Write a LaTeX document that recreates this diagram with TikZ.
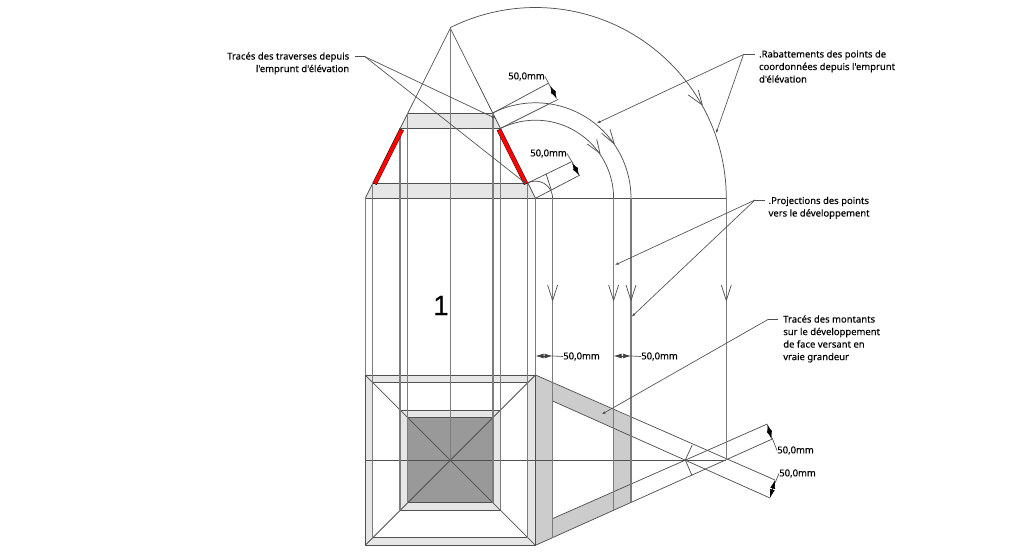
\documentclass[tikz,border=0pt]{standalone}
\usepackage{fontspec}
\setmainfont{Noto Sans}
\newfontfamily\notefont[FakeBold=0.15]{Noto Sans}
\newfontfamily\numfont[FakeBold=0.3]{Liberation Sans}
\usetikzlibrary{arrows.meta}
\definecolor{lightband}{HTML}{E6E6E6}
\definecolor{midband}{HTML}{CCCCCC}
\definecolor{darkcore}{HTML}{999999}
\definecolor{vline}{HTML}{7C7C7C}
\definecolor{sline}{HTML}{505050}
\definecolor{trave}{HTML}{FF0000}
\newcommand{\labfont}{\notefont\fontsize{7.1pt}{9.4pt}\selectfont}
\newcommand{\openhead}[3]{\draw[structure] (#1) -- (#2) -- (#3);}
\newcommand{\quarter}[2]{plot[domain=#2:0,samples=60] ({535.5+#1*cos(\x)},{198.3-#1*sin(\x)})}
\tikzset{
  x=0.75pt,y=-0.75pt,
  structure/.style={draw=sline,line width=0.55pt,line join=round},
  guide/.style={draw=vline,line width=0.85pt},
  leader/.style={draw=sline,line width=0.5pt},
  pointer/.style={leader,-{Latex[length=2.8pt,width=2pt]}},
  dimarrow/.style={draw=black,line width=0.5pt,{Latex[length=6.5pt,width=3.8pt]}-{Latex[length=6.5pt,width=3.8pt]}},
  dimflat/.style={draw=black!75,line width=0.5pt,{Latex[length=6pt,width=3.6pt]}-{Latex[length=6pt,width=3.6pt]}},
  note/.style={font=\labfont,inner sep=0pt,align=left,text=black},
  rafter/.style={draw=black,line width=3.3pt},
  rafterfill/.style={draw=trave,line width=2.9pt},
}
\begin{document}
\begin{tikzpicture}
\useasboundingbox (0,0) rectangle (1024,559);
% --- elevation points
\coordinate (apex) at (450.3,28.3);
\coordinate (eL0) at (365.2,198.3);
\coordinate (eR0) at (535.5,198.3);
\coordinate (eL1) at (372.6,183);
\coordinate (eR1) at (527.7,183);
\coordinate (eL2) at (400,128.3);
\coordinate (eR2) at (500.5,128.3);
\coordinate (eL3) at (407.7,113);
\coordinate (eR3) at (493,113);
% --- plan points
\coordinate (pA0) at (365.2,375);
\coordinate (pB0) at (535.5,375);
\coordinate (pC0) at (535.5,545.3);
\coordinate (pD0) at (365.2,545.3);
\coordinate (pA1) at (372.6,382.5);
\coordinate (pB1) at (527.7,382.5);
\coordinate (pC1) at (527.7,537.5);
\coordinate (pD1) at (372.6,537.5);
\coordinate (pA2) at (400,410);
\coordinate (pB2) at (500.5,410);
\coordinate (pC2) at (500.5,510.3);
\coordinate (pD2) at (400,510.3);
\coordinate (pA3) at (407.7,417.5);
\coordinate (pB3) at (493,417.5);
\coordinate (pC3) at (493,502.7);
\coordinate (pD3) at (407.7,502.7);
\coordinate (pO) at (450.3,460);
\coordinate (pW) at (365.2,460);
% --- development points
\coordinate (dE) at (726.3,460);
\coordinate (dX) at (685.3,460);
\coordinate (t1i) at (552.6,401);
\coordinate (b1i) at (552.6,518.6);
\coordinate (b1) at (552.6,538);
\coordinate (t2i) at (613.6,428);
\coordinate (b2i) at (613.6,492);
\coordinate (b2) at (613.6,510);
\coordinate (t3) at (631,417.6);
\coordinate (b3) at (631,502.4);
\coordinate (eT) at (775,480);
\coordinate (eTi) at (770,498);
\coordinate (eB) at (771.7,439.3);
\coordinate (eBi) at (767.3,424);
\coordinate (rab) at (726.3,198.3);
\coordinate (p1) at (552.6,198.3);
\coordinate (p2) at (613.6,198.3);
\coordinate (p3) at (631,198.3);
% --- fills
\fill[lightband,even odd rule] (pA0)--(pB0)--(pC0)--(pD0)--cycle (pA1)--(pB1)--(pC1)--(pD1)--cycle;
\fill[lightband] (pA2)--(pB2)--(pC2)--(pD2)--cycle;
\fill[darkcore] (pA3)--(pB3)--(pC3)--(pD3)--cycle;
\fill[lightband] (eL1)--(eR1)--(eR0)--(eL0)--cycle;
\fill[lightband] (eL3)--(eR3)--(eR2)--(eL2)--cycle;
\fill[midband,even odd rule] (pB0)--(t3)--(b3)--(pC0)--cycle (t1i)--(t2i)--(b2i)--(b1i)--cycle;
% --- plan lines
\draw[structure] (pA0)--(pB0)--(pC0)--(pD0)--cycle;
\draw[structure] (pA1)--(pB1)--(pC1)--(pD1)--cycle;
\draw[structure] (pA2)--(pB2)--(pC2)--(pD2)--cycle;
\draw[structure] (pA3)--(pB3)--(pC3)--(pD3)--cycle;
\draw[structure] (pA0)--(pC0) (pB0)--(pD0);
% --- elevation lines
\draw[structure] (eL0)--(apex)--(eR0);
\draw[structure] (eL1)--(eR1) (eL2)--(eR2) (eL3)--(eR3);
\draw[structure] (eL0)--(rab);
\draw[structure] (pW)--(dE);
% --- guides from elevation to plan
\draw[guide] (eL0)--(pA0);
\draw[guide] (eR0)--(pB0);
\draw[guide] (eL1)--(pD1);
\draw[guide] (eR1)--(pC1);
\draw[guide] (eL2)--(pD2);
\draw[guide] (eR2)--(pC2);
\draw[guide] (eL3)--(pD3);
\draw[guide] (eR3)--(pC3);
\draw[guide] (apex)--(pO);
% --- rafters
\draw[rafter] (374.6,184) -- (401.8,129.5);
\draw[rafter] (498.8,129.5) -- (526,184);
\draw[rafterfill] (374.8,183.5) -- (401.6,130);
\draw[rafterfill] (499,130) -- (525.8,183.5);
% --- development lines
\draw[structure] (pB0)--(eT);
\draw[structure] (pC0)--(eB);
\draw[structure] (t1i)--(eTi);
\draw[structure] (b1i)--(eBi);
\draw[structure] (692.2,445)--(dX)--(692,475.5);
% --- folded arcs and projections
\draw[structure] \quarter{190.8}{116.5};
\draw[structure] \quarter{95.5}{116.5};
\draw[structure] \quarter{78.1}{116.5};
\draw[structure] \quarter{17.1}{116.5};
\draw[guide] (p1)--(b1);
\draw[guide] (p2)--(b2);
\draw[guide] (p3)--(b3);
\draw[guide] (rab)--(dE);
\draw[structure] (546,173.8)--(551.4,190.3);
% --- open arrowheads
\openhead{547.6,285}{552.6,300.5}{557.6,285}
\openhead{608.6,285}{613.6,300.5}{618.6,285}
\openhead{626,285}{631,300.5}{636,285}
\openhead{721.3,285}{726.3,300.5}{731.3,285}
\openhead{688.3,95}{702.3,105}{698.3,90}
\openhead{601.7,133.3}{614.3,144}{610,129.3}
\openhead{587.3,144}{600,153.3}{596.7,139.3}
% --- dimension extension lines
\coordinate (x1a) at (548.3,83.3);
\coordinate (x1b) at (558.3,99.3);
\coordinate (x2a) at (571.7,161.7);
\coordinate (x2b) at (580,175);
\draw[structure] (eR3)--(x1a);
\draw[structure] (eR2)--(x1b);
\draw[structure] (eR1)--(x2a);
\draw[structure] (eR0)--(x2b);
\draw[dimarrow] (550,85.5)--(556.8,99);
\draw[dimarrow] (572,162.5)--(579.3,175.7);
\draw[dimarrow] (eBi)--(eB);
\draw[dimarrow] (eT)--(eTi);
\draw[dimflat] (eR0|-0,356)--(552.6,356);
\draw[dimflat] (613.6,356)--(631,356);
% --- dimension texts
\node[note,anchor=west] (d1) at (508,76.5) {50,0mm};
\node[note,anchor=west] (d2) at (530,153.5) {50,0mm};
\node[note,anchor=west] (d3) at (563,356.5) {50,0mm};
\node[note,anchor=west] (d4) at (641,356.5) {50,0mm};
\node[note,anchor=west] (d5) at (777,450.5) {50,0mm};
\node[note,anchor=west] (d6) at (779,473.5) {50,0mm};
\draw[leader] (d1.east)--(550.5,87);
\draw[leader] (d2.east)--(573.5,164.5);
\draw[leader] (552.6,356)--(d3.west);
\draw[leader] (631,356)--(d4.west);
\draw[leader] (d5.west)--(772.2,438);
\draw[leader] (d6.west)--(775,483);
% --- big number
\node[font=\numfont\fontsize{21pt}{21pt}\selectfont,inner sep=0pt] (num) at (441,305.5) {1};
% --- notes
\node[note,anchor=north east,align=right] (nT) at (349.5,52) {Tracés des traverses depuis\\l'emprunt d'élévation};
\node[note,anchor=north west] (nR) at (758.8,50) {.Rabattements des points de\\coordonnées depuis l'emprunt\\d'élévation};
\node[note,anchor=north west] (nP) at (768.3,196.5) {.Projections des points\\vers le développement};
\node[note,anchor=north west] (nM) at (783,315) {Tracés des montants\\sur le développement\\de face versant en\\vraie grandeur};
% --- callout leaders
\coordinate (kT0) at (355,56.7);
\coordinate (kT) at (365,56.7);
\coordinate (kR0) at (755,54.5);
\coordinate (kR) at (743.5,54.5);
\coordinate (kP0) at (765,200);
\coordinate (kP) at (755,200);
\coordinate (kM0) at (778,319.3);
\coordinate (kM) at (768.3,319.3);
\draw[leader] (kT0)--(kT);
\draw[pointer] (kT)--(495.7,118.5);
\draw[pointer] (kT)--(526.5,184);
\draw[leader] (kR0)--(kR);
\draw[pointer] (kR)--(596.7,123.3);
\draw[pointer] (kR)--(716,133.3);
\draw[leader] (kP0)--(kP);
\draw[pointer] (kP)--(615,265);
\draw[pointer] (kP)--(631.7,316.7);
\draw[leader] (kM0)--(kM);
\draw[pointer] (kM)--(601.7,414.3);
\end{tikzpicture}
\end{document}
